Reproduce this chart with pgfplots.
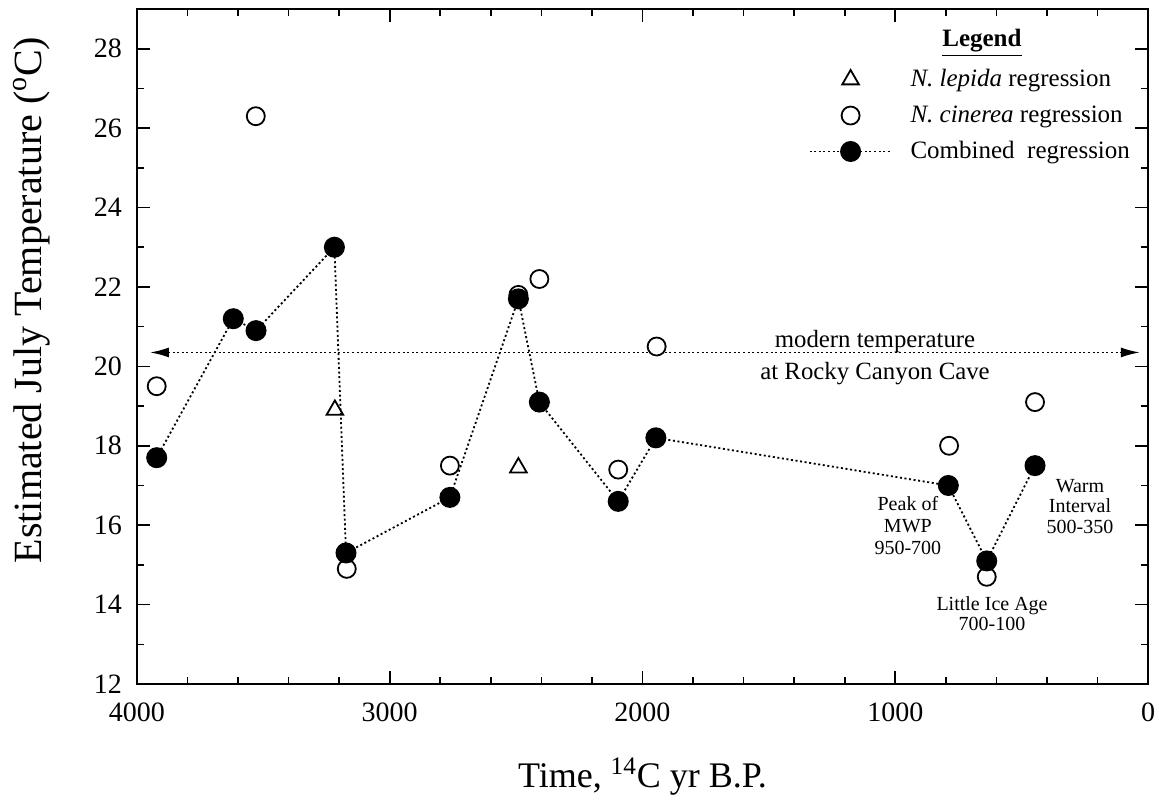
\documentclass[border=0pt]{standalone}
\usepackage{pgfplots}
\pgfplotsset{compat=1.18}
\usepackage{fontspec}
\setmainfont{Liberation Serif}
\usetikzlibrary{arrows.meta}

\pgfplotsset{
  dotline/.style={line width=0.9pt, dash pattern=on 1pt off 1.3pt},
  mylegend/.style={legend image code/.code={\draw[mark repeat=2,mark phase=2,##1] plot coordinates {(0pt,0pt) (20.5pt,0pt) (41pt,0pt)};}},
}

\begin{document}
\begin{tikzpicture}
\begin{axis}[
  scale only axis, width=505.5pt, height=337.5pt,
  x dir=reverse, xmin=0, xmax=4000, ymin=12, ymax=29,
  xtick={0,1000,...,4000}, ytick={12,14,...,28},
  minor x tick num=4, minor y tick num=1,
  tick align=inside, major tick length=6.5pt, minor tick length=3.5pt,
  every tick/.style={black, line width=0.8pt},
  axis line style={line width=1pt},
  ticklabel style={font=\fontsize{14}{16}\selectfont},
  /pgf/number format/assume math mode=true,
  /pgf/number format/1000 sep={},
  xticklabel style={yshift=-6pt},
  yticklabel style={xshift=-4pt},
  xlabel={Time, \textsuperscript{14}C yr B.P.},
  ylabel={Estimated July Temperature (\textsuperscript{o}C)},
  xlabel style={font=\fontsize{18}{22}\selectfont, at={(axis description cs:0.5,-0.1526)}, anchor=base},
  ylabel style={font=\fontsize{20}{24}\selectfont, at={(axis description cs:-0.104,0.569)}, anchor=center},
  legend style={draw=none, fill=none, at={(axis description cs:0.664,0.917)}, anchor=north west,
    inner sep=0pt, font=\fontsize{12.5}{14}\selectfont, row sep=4pt, column sep=7pt},
  legend cell align=left,
  clip=false,
]
% modern temperature
\addplot[forget plot, dotline, {Latex[length=9.5pt,width=5pt]}-{Latex[length=9.5pt,width=5pt]}]
  coordinates {(3949,20.35) (32,20.35)};

% N. lepida
\addplot[only marks, mark=triangle, mark size=4.8pt, mark options={line width=0.9pt, fill=white}, mylegend]
  coordinates {(3217,18.9) (2491,17.45)};
\addlegendentry{\textit{N. lepida} regression}

% N. cinerea
\addplot[only marks, mark=*, mark size=4.5pt, mark options={line width=0.9pt, fill=white, draw=black}, mylegend]
  coordinates {(3922,19.5) (3530,26.3) (3170,14.9) (2762,17.5) (2491,21.8) (2408,22.2)
               (2096,17.4) (1944,20.5) (787,18.0) (638,14.7) (447,19.1)};
\addlegendentry{\textit{N. cinerea} regression}

% combined
\addplot[dotline, mark=*, mark size=4.8pt, mark options={solid, fill=black, draw=black}, mylegend]
  coordinates {(3922,17.7) (3619,21.2) (3529,20.9) (3219,23.0) (3173,15.3) (2762,16.7)
               (2491,21.7) (2408,19.1) (2096,16.6) (1947,18.2) (790,17.0) (638,15.1) (447,17.5)};
\addlegendentry{Combined\ \ regression}

\node[font=\bfseries\fontsize{12.5}{14}\selectfont] at (axis cs:657,28.15) {\underline{Legend}};
\node[align=center, font=\fontsize{12.4}{16}\selectfont] at (axis cs:1080,20.22) {modern temperature\\at Rocky Canyon Cave};
\node[align=center, font=\fontsize{10}{11}\selectfont] at (axis cs:950,16.0) {Peak of\\MWP\\950-700};
\node[align=center, font=\fontsize{10}{10.3}\selectfont] at (axis cs:269,16.47) {Warm\\Interval\\500-350};
\node[align=center, font=\fontsize{10}{9.7}\selectfont] at (axis cs:617,13.77) {Little Ice Age\\700-100};

\coordinate (sw) at (axis description cs:0,0);
\coordinate (ne) at (axis description cs:1,1);
\end{axis}
\pgfresetboundingbox
\path[use as bounding box] ([xshift=-68.5pt,yshift=-57.5pt]sw) rectangle ([xshift=5.5pt,yshift=4.5pt]ne);
\end{tikzpicture}
\end{document}
